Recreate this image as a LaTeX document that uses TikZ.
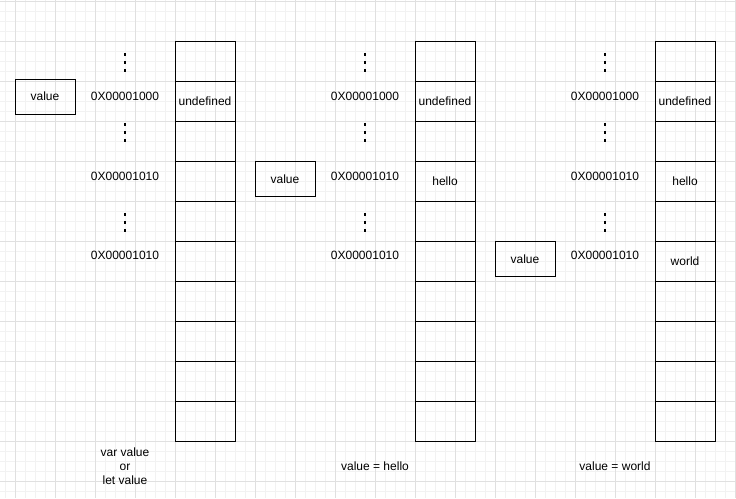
\documentclass[tikz,border=0pt]{standalone}
\usepackage{fontspec}
\setmainfont{Liberation Sans}

\tikzset{
	cell/.style={draw, line width=1pt, minimum width=60pt, minimum height=40pt, inner sep=0pt},
	valbox/.style={draw, line width=1pt, minimum width=60pt, minimum height=35pt, inner sep=0pt},
	minorline/.style={color=black!5, line width=1pt},
	majorline/.style={color=black!12, line width=1pt},
}
\newcommand\memdots[2]{%
	\fill (#1-1.2,#2-9.5) rectangle ++(2.5,3);
	\fill (#1-1.2,#2-1.5) rectangle ++(2.5,3);
	\fill (#1-1.2,#2+6.5) rectangle ++(2.5,3);}

\begin{document}
\begin{tikzpicture}[x=1pt,y=-1pt,font=\fontsize{12pt}{14pt}\selectfont]
			\useasboundingbox (0,0) rectangle (736,498);
			\fill[white] (0,0) rectangle (736,498);
			% background grid
			\foreach \x in {5,15,...,735} \draw[minorline] (\x,0) -- (\x,498);
			\foreach \y in {1,11,...,491} \draw[minorline] (0,\y) -- (736,\y);
			\foreach \x in {15,55,...,735} \draw[majorline] (\x,0) -- (\x,498);
			\foreach \y in {1,41,...,481} \draw[majorline] (0,\y) -- (736,\y);

			% memory columns
			\foreach \i in {0,...,9} \node[cell] (ma\i) at (205,61+40*\i) {};
			\foreach \i in {0,...,9} \node[cell] (mb\i) at (445,61+40*\i) {};
			\foreach \i in {0,...,9} \node[cell] (mc\i) at (685,61+40*\i) {};

			\node (ua) at (ma1) {undefined};
			\node (ub) at (mb1) {undefined};
			\node (uc) at (mc1) {undefined};
			\node (hb) at (mb3) {hello};
			\node (hc) at (mc3) {hello};
			\node (wc) at (mc5) {world};

			% variable boxes
			\node[valbox] (va) at (45,96.5) {value};
			\node[valbox] (vb) at (285,179) {value};
			\node[valbox] (vc) at (525,259) {value};

			% addresses
			\node (aa1) at (125,96) {0X00001000};
			\node (aa2) at (125,176) {0X00001010};
			\node (aa3) at (125,255) {0X00001010};
			\node (ab1) at (365,96) {0X00001000};
			\node (ab2) at (365,176) {0X00001010};
			\node (ab3) at (365,255) {0X00001010};
			\node (ac1) at (605,96) {0X00001000};
			\node (ac2) at (605,176) {0X00001010};
			\node (ac3) at (605,255) {0X00001010};

			\memdots{125}{62} \memdots{125}{132} \memdots{125}{222}
			\memdots{365}{62} \memdots{365}{132} \memdots{365}{222}
			\memdots{605}{62} \memdots{605}{132} \memdots{605}{222}

			% captions
			\node[align=center] (la) at (125,466) {var value\\or\\let value};
			\node (lb) at (375,466) {value = hello};
			\node (lc) at (615,466) {value = world};
		\end{tikzpicture}
\end{document}
